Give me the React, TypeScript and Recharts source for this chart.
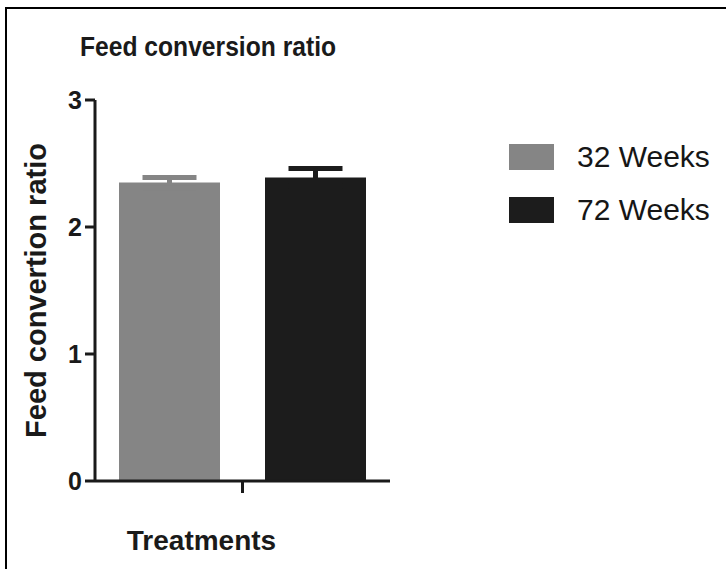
import React from 'react';
import { BarChart, Bar, XAxis, YAxis, ErrorBar, Legend, Label } from 'recharts';

const FONT = '"Liberation Sans", Arial, Helvetica, sans-serif';

const categories = [''];
const seriesNames = ['32 Weeks', '72 Weeks'];
const weeks32 = [2.35];
const weeks72 = [2.39];
const err32 = [0.04];
const err72 = [0.07];
const yTicks = [0, 1, 2, 3];
const seriesColors = ['#858585', '#1c1c1c'];

const data = categories.map((c, i) => ({
  name: c,
  w32: weeks32[i],
  w72: weeks72[i],
  e32: err32[i],
  e72: err72[i],
}));

const AXIS = '#1a1a1a';

const renderLegend = (props: any) => {
  const payload = props.payload || [];
  return (
    <div style={{ fontFamily: FONT }}>
      {payload.map((entry: any, i: number) => (
        <div
          key={i}
          style={{ display: 'flex', alignItems: 'center', height: 26, marginBottom: i === 0 ? 27 : 0 }}
        >
          <div style={{ width: 45, height: 26, background: entry.color }} />
          <span
            style={{ marginLeft: 23, fontSize: 30, lineHeight: '26px', color: '#161616', whiteSpace: 'nowrap' }}
          >
            {entry.value}
          </span>
        </div>
      ))}
    </div>
  );
};

export default function App() {
  return (
    <div style={{ position: 'absolute', left: 0, top: 0, width: 726, height: 569, background: '#fff' }}>
      <div
        style={{
          position: 'absolute',
          left: 5,
          top: 7,
          width: 721,
          height: 562,
          borderTop: '2px solid #000',
          borderLeft: '2px solid #000',
          boxSizing: 'border-box',
        }}
      />
      <div
        style={{
          position: 'absolute',
          left: 80,
          top: 33,
          fontFamily: FONT,
          fontWeight: 'bold',
          fontSize: 28,
          lineHeight: '28px',
          color: '#1a1a1a',
          whiteSpace: 'nowrap',
          transform: 'scaleX(0.88)',
          transformOrigin: 'left center',
          zIndex: 2,
        }}
      >
        Feed conversion ratio
      </div>
      <BarChart
        width={726}
        height={569}
        data={data}
        margin={{ top: 100, right: 336, bottom: 0, left: 0 }}
        barGap={45}
        style={{ fontFamily: FONT }}
      >
        <XAxis
          dataKey="name"
          height={88}
          tickSize={12}
          axisLine={{ stroke: AXIS, strokeWidth: 3 }}
          tickLine={{ stroke: AXIS, strokeWidth: 3 }}
          tick={{ fontSize: 24, fill: AXIS }}
        >
          <Label
            value="Treatments"
            position="center"
            dx={-41}
            dy={15}
            fontSize={28}
            fontWeight="bold"
            fill={AXIS}
            fontFamily={FONT}
          />
        </XAxis>
        <YAxis
          width={95}
          domain={[0, 3]}
          ticks={yTicks}
          interval={0}
          tickSize={10}
          tickMargin={3}
          axisLine={{ stroke: AXIS, strokeWidth: 3 }}
          tickLine={{ stroke: AXIS, strokeWidth: 3 }}
          tick={{ fontSize: 25, fontWeight: 'bold', fill: AXIS, fontFamily: FONT }}
        >
          <Label
            value="Feed convertion ratio"
            angle={-90}
            position="center"
            dx={-12}
            fontSize={29}
            fontWeight="bold"
            fill={AXIS}
            fontFamily={FONT}
          />
        </YAxis>
        <Legend
          layout="horizontal"
          verticalAlign="middle"
          align="center"
          content={renderLegend}
          wrapperStyle={{ left: 509, top: 144, width: 217 }}
        />
        <Bar dataKey="w32" name={seriesNames[0]} fill={seriesColors[0]} barSize={101} isAnimationActive={false}>
          <ErrorBar dataKey="e32" width={27} strokeWidth={5} stroke={seriesColors[0]} direction="y" isAnimationActive={false} />
        </Bar>
        <Bar dataKey="w72" name={seriesNames[1]} fill={seriesColors[1]} barSize={101} isAnimationActive={false}>
          <ErrorBar dataKey="e72" width={27} strokeWidth={5} stroke={seriesColors[1]} direction="y" isAnimationActive={false} />
        </Bar>
      </BarChart>
    </div>
  );
}
